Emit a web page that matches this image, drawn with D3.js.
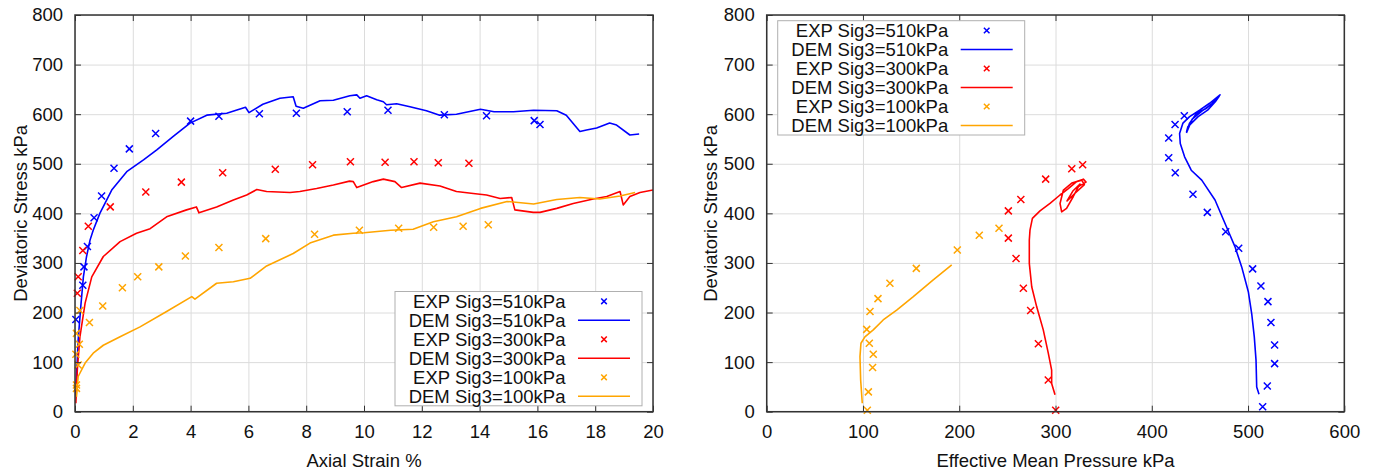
<!DOCTYPE html>
<html>
<head>
<meta charset="utf-8">
<script src="https://cdn.jsdelivr.net/npm/d3@7"></script>
<style>
  body { margin: 0; background: #fff; }
  svg { display: block; font-family: "Liberation Sans", Arial, sans-serif; }
</style>
</head>
<body>
<div id="chart"></div>
<script>
// ---- data ----
// left panel: axial strain (%) vs deviatoric stress (kPa)
const exp510 = [[0.03,186],[0.27,255],[0.31,292],[0.43,333],[0.66,391],[0.92,435],[1.35,491],[1.88,530],[2.79,561],[4.0,586],[4.98,596],[6.38,601],[7.66,602],[9.42,605],[10.83,608],[12.78,599],[14.24,597],[15.89,587],[16.09,579]];
const exp300 = [[0.08,239],[0.11,272],[0.27,325],[0.46,374],[1.22,413],[2.45,443],[3.68,463],[5.11,482],[6.93,489],[8.22,498],[9.53,504],[10.73,503],[11.73,504],[12.57,502],[13.63,501]];
const exp100 = [[0.05,47],[0.05,54],[0.11,94],[0.03,116],[0.15,136],[0.05,158],[0.17,204],[0.5,180],[0.96,213],[1.64,250],[2.17,272],[2.9,292],[3.82,314],[4.98,331],[6.6,349],[8.29,358],[9.84,366],[11.2,370],[12.41,372],[13.43,374],[14.3,377]];

const dem510 = [[0.02,30],[0.11,145],[0.2,212],[0.29,272],[0.4,313],[0.52,346],[0.63,366],[0.86,400],[1.27,447],[1.79,484],[2.37,508],[2.83,528],[3.4,555],[3.98,582],[4.56,598],[5.25,602],[5.9,614],[6.02,603],[6.5,620],[7.09,632],[7.55,635],[7.65,616],[7.9,612],[8.48,627],[8.94,628],[9.51,637],[9.75,639],[9.86,632],[10.09,637],[10.44,629],[10.67,625],[10.78,619],[11.13,621],[11.59,615],[12.16,607],[12.62,598],[13.2,600],[14.03,610],[14.5,605],[15.17,605],[15.87,608],[16.67,607],[17.0,598],[17.47,565],[17.7,568],[18.05,572],[18.5,582],[18.74,578],[19.2,558],[19.52,560]];
const dem300 = [[0.03,17],[0.08,84],[0.17,151],[0.35,219],[0.58,272],[0.98,313],[1.56,343],[2.13,360],[2.6,369],[3.17,393],[3.86,407],[4.2,413],[4.29,401],[4.9,413],[5.48,427],[5.94,437],[6.29,448],[6.63,444],[7.44,442],[7.78,444],[8.36,450],[8.94,457],[9.5,465],[9.63,464],[9.75,452],[10.32,464],[10.67,469],[11.07,464],[11.3,452],[11.94,461],[12.63,455],[13.2,444],[13.78,440],[14.24,437],[14.71,430],[15.11,432],[15.22,407],[15.86,402],[16.09,402],[16.67,410],[17.24,420],[17.93,429],[18.4,434],[18.86,444],[18.97,417],[19.2,434],[19.55,442],[20.0,447]];
const dem100 = [[0.05,30],[0.11,71],[0.35,98],[0.63,118],[0.98,134],[1.56,151],[2.25,171],[3.17,202],[4.04,232],[4.15,227],[4.9,259],[5.48,262],[6.06,269],[6.63,294],[7.55,319],[8.13,340],[8.94,356],[9.63,360],[10.0,361],[10.92,366],[11.7,368],[12.4,383],[13.2,393],[14.03,410],[14.95,424],[15.87,419],[16.67,428],[17.47,432],[18.16,429],[18.86,435],[19.38,442]];

// right panel: effective mean pressure (kPa) vs deviatoric stress (kPa)
const pExp510 = [[515.2,10],[520,52],[527.6,97],[527.6,134.5],[523.8,180],[520.7,222],[513.4,253.5],[504.8,288],[490.3,329.6],[476.8,363],[457.7,402],[442.8,438.5],[424.4,482],[417.6,512],[417.6,552],[424.2,579],[433.8,597]];
const pExp300 = [[300.2,3],[292.5,64],[282.2,137],[274.2,204],[266.6,249],[259,309],[251,350],[251,405],[264,428],[289.8,469],[316.9,490],[328.2,498]];
const pExp100 = [[104.5,3],[105.6,40],[110,89],[110.7,116],[106.6,138],[103.9,166],[107.3,202],[115.6,228],[128,259],[155.4,289],[198,326],[220.8,356],[241.3,370]];

const pDem510 = [[511.4,35],[509,50],[508.3,104],[506.5,151],[503.8,198],[500.3,242],[493.4,292],[486.4,333],[480,362],[465.7,427],[451.9,467],[441,487],[434.1,514],[429.6,541],[428.9,561],[432.4,582],[439.3,595],[449.7,608],[460.1,622],[470.9,639],[467.4,629],[457,612],[446.6,602],[439.3,582],[436.2,565],[437.6,575],[448.2,595],[458,608],[466,625],[470,636],[462,620],[452,606],[442,590],[436,562]];
const pDem300 = [[299.5,34],[296,57],[296,84],[292.5,118],[287.3,165],[280.4,212],[275.3,252],[272.8,299],[272.8,346],[273.5,366],[276,390],[283.9,405],[294.3,420],[304.7,437],[313.3,450],[321.9,464],[328.9,469],[331.7,463],[323.8,454],[318.5,434],[311.5,410],[306.4,403],[304.7,420],[308.2,447],[316.9,461],[327.2,467],[330,458],[320,440],[312,425],[318,445],[326,460]];
const pDem100 = [[99.3,17],[97.6,64],[96.9,111],[97.9,138],[102,151],[110.7,165],[121,185],[135,205],[152.3,232],[173,266],[192.2,296]];

const legendLabels = ["EXP Sig3=510kPa","DEM Sig3=510kPa","EXP Sig3=300kPa","DEM Sig3=300kPa","EXP Sig3=100kPa","DEM Sig3=100kPa"];
const strainTicks = d3.range(0, 21, 2);
const pressureTicks = d3.range(0, 601, 100);
const stressTicks = d3.range(0, 801, 100);

const BLUE = "#0000ff", RED = "#ff0000", ORANGE = "#ffa500";
const FONT = "18.5px";

const svg = d3.select("#chart").append("svg")
    .attr("width", 1380).attr("height", 473);

function drawPanel(opt) {
    const x = d3.scaleLinear().domain(opt.xDomain).range([opt.left, opt.right]);
    const y = d3.scaleLinear().domain([0, 800]).range([opt.bottom, opt.top]);
    const g = svg.append("g");
    const w = opt.right - opt.left, h = opt.bottom - opt.top;

    // grid
    g.append("g").attr("transform", `translate(0,${opt.bottom})`)
        .call(d3.axisBottom(x).tickValues(opt.xTicks).tickSize(-h).tickFormat(""))
        .call(s => s.select(".domain").remove())
        .call(s => s.selectAll("line").attr("stroke", "#dcdcdc").attr("stroke-width", 1));
    g.append("g").attr("transform", `translate(${opt.left},0)`)
        .call(d3.axisLeft(y).tickValues(stressTicks).tickSize(-w).tickFormat(""))
        .call(s => s.select(".domain").remove())
        .call(s => s.selectAll("line").attr("stroke", "#dcdcdc").attr("stroke-width", 1));

    const clipId = "clip" + opt.left;
    svg.append("clipPath").attr("id", clipId).append("rect")
        .attr("x", opt.left).attr("y", opt.top).attr("width", w).attr("height", h);

    const line = d3.line().x(d => x(d[0])).y(d => y(d[1]));
    const plot = g.append("g").attr("clip-path", `url(#${clipId})`);
    opt.lines.forEach(([data, col]) => {
        plot.append("path").datum(data)
            .attr("d", line).attr("fill", "none")
            .attr("stroke", col).attr("stroke-width", 1.6)
            .attr("stroke-linejoin", "round");
    });
    const cross = (sel, r) => sel.append("path")
        .attr("d", `M${-r},${-r}L${r},${r}M${-r},${r}L${r},${-r}`);
    opt.points.forEach(([data, col]) => {
        g.append("g").selectAll("g").data(data).join("g")
            .attr("transform", d => `translate(${x(d[0])},${y(d[1])})`)
            .call(s => cross(s, 3.5))
            .attr("stroke", col).attr("stroke-width", 1.5).attr("fill", "none");
    });

    // axes labels and inner ticks
    const bottomAxis = g.append("g").attr("transform", `translate(0,${opt.bottom})`)
        .call(d3.axisBottom(x).tickValues(opt.xTicks).tickSize(-6).tickPadding(13.5));
    const topAxis = g.append("g").attr("transform", `translate(0,${opt.top})`)
        .call(d3.axisTop(x).tickValues(opt.xTicks).tickSize(-6).tickFormat(""));
    const leftAxis = g.append("g").attr("transform", `translate(${opt.left},0)`)
        .call(d3.axisLeft(y).tickValues(stressTicks).tickSize(-6).tickPadding(12));
    const rightAxis = g.append("g").attr("transform", `translate(${opt.right},0)`)
        .call(d3.axisRight(y).tickValues(stressTicks).tickSize(-6).tickFormat(""));
    [bottomAxis, topAxis, leftAxis, rightAxis].forEach(a => {
        a.select(".domain").remove();
        a.selectAll("line").attr("stroke", "#333");
        a.selectAll("text").attr("font-size", FONT).attr("fill", "#111")
            .attr("font-family", "'Liberation Sans', Arial, sans-serif");
    });

    // legend
    const lg = g.append("g").attr("transform", `translate(${opt.legendX},${opt.legendY})`);
    lg.append("rect").attr("width", 247).attr("height", 114.3)
        .attr("fill", "#fff").attr("stroke", "#b0b0b0").attr("stroke-width", 1);
    const colors = [BLUE, BLUE, RED, RED, ORANGE, ORANGE];
    legendLabels.forEach((lab, i) => {
        const cy = 9.8 + i * 19;
        lg.append("text").attr("x", 170.5).attr("y", cy).attr("dy", "0.36em")
            .attr("text-anchor", "end").attr("font-size", FONT).attr("fill", "#111").text(lab);
        if (i % 2 === 0) {
            lg.append("g").attr("transform", `translate(209,${cy})`)
                .call(s => cross(s, 2.8))
                .attr("stroke", colors[i]).attr("stroke-width", 1.5);
        } else {
            lg.append("line").attr("x1", 183).attr("x2", 235).attr("y1", cy).attr("y2", cy)
                .attr("stroke", colors[i]).attr("stroke-width", 1.6);
        }
    });

    // frame
    g.append("rect").attr("x", opt.left).attr("y", opt.top).attr("width", w).attr("height", h)
        .attr("fill", "none").attr("stroke", "#333").attr("stroke-width", 1.5);

    // titles
    g.append("text").attr("x", (opt.left + opt.right) / 2).attr("y", 466.5)
        .attr("text-anchor", "middle").attr("font-size", FONT).attr("fill", "#111").text(opt.xLabel);
    g.append("text").attr("transform", `translate(${opt.yLabelX},${(opt.top + opt.bottom) / 2}) rotate(-90)`)
        .attr("dy", "0.36em").attr("text-anchor", "middle").attr("font-size", FONT).attr("fill", "#111")
        .text("Deviatoric Stress kPa");
}

drawPanel({
    left: 75, right: 653, top: 15, bottom: 411.7,
    xDomain: [0, 20], xTicks: strainTicks, xLabel: "Axial Strain %", yLabelX: 20,
    lines: [[dem510, BLUE], [dem300, RED], [dem100, ORANGE]],
    points: [[exp510, BLUE], [exp300, RED], [exp100, ORANGE]],
    legendX: 395, legendY: 291.5
});

drawPanel({
    left: 766.7, right: 1344.3, top: 15, bottom: 411.7,
    xDomain: [0, 600], xTicks: pressureTicks, xLabel: "Effective Mean Pressure kPa", yLabelX: 710,
    lines: [[pDem510, BLUE], [pDem300, RED], [pDem100, ORANGE]],
    points: [[pExp510, BLUE], [pExp300, RED], [pExp100, ORANGE]],
    legendX: 777.7, legendY: 20.7
});
</script>
</body>
</html>
